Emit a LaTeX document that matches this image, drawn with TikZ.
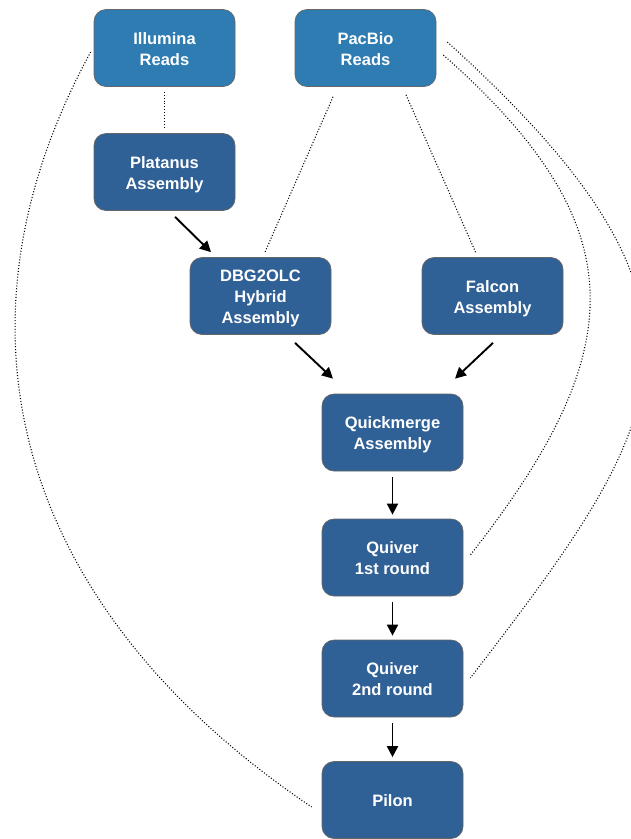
\documentclass[tikz,border=0pt]{standalone}
\usepackage{fontspec}
\setmainfont{Liberation Sans}
\usetikzlibrary{arrows.meta}
\definecolor{lightbox}{RGB}{46,124,178}
\definecolor{darkbox}{RGB}{47,96,150}
\newcommand\boxtext[1]{\raisebox{-2.5pt}[\height][\depth]{\begin{tabular}{@{}c@{}}#1\end{tabular}}}
\tikzset{
  box/.style={rounded corners=12pt, minimum width=141pt, minimum height=77pt,
    align=center, text=white, draw=black!60, line width=0.7pt,
    font=\fontsize{16.5}{21}\selectfont\bfseries, inner sep=0pt},
  lightnode/.style={box, fill=lightbox},
  darknode/.style={box, fill=darkbox},
  dotline/.style={draw=black, line width=1.1pt, dash pattern=on 1pt off 1.9pt},
  flow/.style={draw=black, line width=1.9pt, -{Triangle[length=11pt,width=11pt]}}
}
\begin{document}
\begin{tikzpicture}[x=1pt,y=-1pt]
\useasboundingbox (0,0) rectangle (631,839);
\node[lightnode] (ill) at (164.5,48) {\boxtext{Illumina\\Reads}};
\node[lightnode] (pac) at (365.5,48) {\boxtext{PacBio\\Reads}};
\node[darknode] (plat) at (164.5,172) {\boxtext{Platanus\\Assembly}};
\node[darknode] (dbg) at (260.5,296) {\boxtext{DBG2OLC\\Hybrid\\Assembly}};
\node[darknode] (fal) at (492.5,296) {\boxtext{Falcon\\Assembly}};
\node[darknode] (qm) at (392.5,432.5) {\boxtext{Quickmerge\\Assembly}};
\node[darknode] (q1) at (392.5,557.5) {\boxtext{Quiver\\1st round}};
\node[darknode] (q2) at (392.5,678.5) {\boxtext{Quiver\\2nd round}};
\node[darknode] (pil) at (392.5,800) {\boxtext{Pilon}};

% dotted connectors
\draw[dotline] ([yshift=-5pt]ill.south) -- ([yshift=5pt]plat.north);
\draw[dotline] ([xshift=-32.5pt,yshift=-10pt]pac.south) -- ([xshift=4.5pt,yshift=5pt]dbg.north);
\draw[dotline] ([xshift=40.5pt,yshift=-8pt]pac.south) -- ([xshift=-16.5pt,yshift=4pt]fal.north);
\draw[dotline] ([xshift=-3pt,yshift=-4pt]ill.west) .. controls (-63,334) and (21,611) .. ([xshift=-10pt,yshift=-7pt]pil.west);
\draw[dotline] ([xshift=7pt,yshift=-7pt]pac.east) .. controls (638,227) and (631,350) .. ([xshift=7pt,yshift=2.5pt]q1.east);
\draw[dotline] ([xshift=11pt,yshift=6pt]pac.east) .. controls (743,310) and (671,417) .. ([xshift=7pt,yshift=0.5pt]q2.east);

% arrows
\draw[flow] ([xshift=10.5pt,yshift=-6pt]plat.south) -- ([xshift=-49.5pt,yshift=5pt]dbg.north);
\draw[flow] ([xshift=34.5pt,yshift=-8pt]dbg.south) -- ([xshift=-59.5pt,yshift=15pt]qm.north);
\draw[flow] ([xshift=0.5pt,yshift=-8pt]fal.south) -- ([xshift=62.5pt,yshift=15pt]qm.north);
\draw[flow] ([yshift=-6pt]qm.south) -- ([yshift=4pt]q1.north);
\draw[flow] ([yshift=-6pt]q1.south) -- ([yshift=4pt]q2.north);
\draw[flow] ([yshift=-6pt]q2.south) -- ([yshift=4pt]pil.north);
\end{tikzpicture}
\end{document}
